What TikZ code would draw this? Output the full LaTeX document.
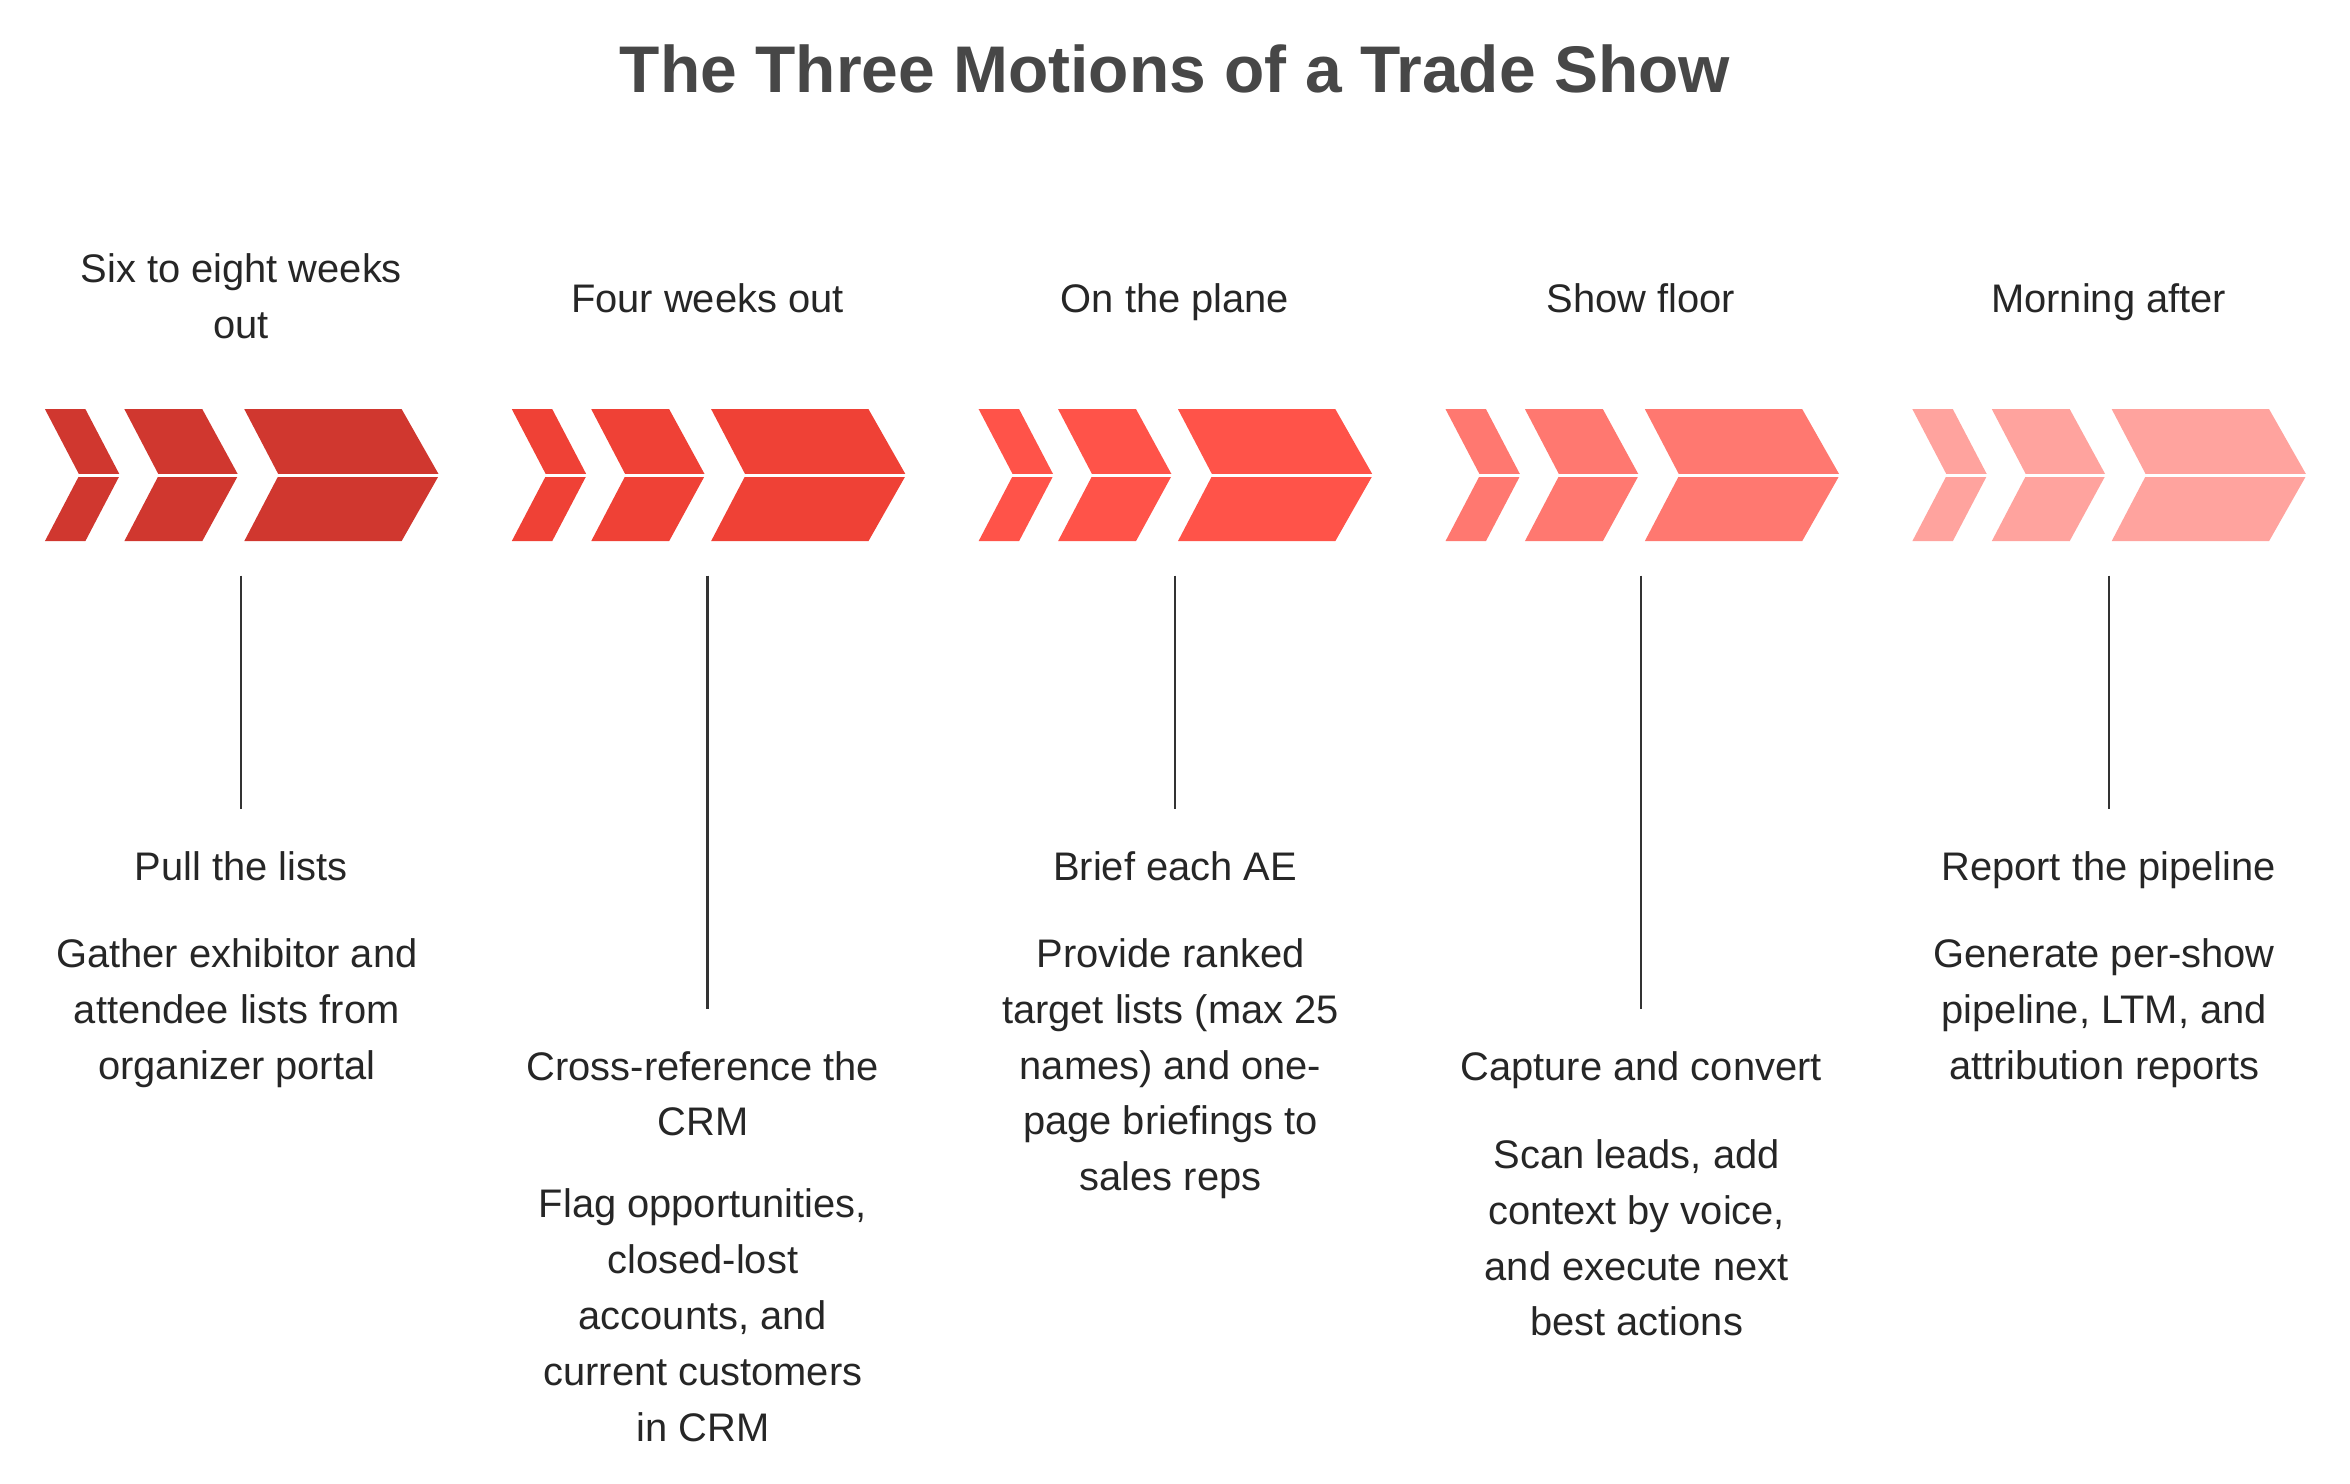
\documentclass[tikz,border=0pt]{standalone}
\usepackage{fontspec}
\setmainfont{Liberation Sans}
\begin{document}
\begin{tikzpicture}[x=0.5pt,y=-0.5pt,
  txt/.style={anchor=north,inner sep=0pt,align=center,text=black!85,font=\fontsize{13.3}{18.6}\selectfont},
  vline/.style={line width=0.8pt,black!80}]
\useasboundingbox (0,0) rectangle (1568,990);
\definecolor{c1}{HTML}{D0372F}\definecolor{c2}{HTML}{EF4136}\definecolor{c3}{HTML}{FF5349}
\definecolor{c4}{HTML}{FF7870}\definecolor{c5}{HTML}{FFA39E}
\node[anchor=base,font=\fontsize{22}{24}\selectfont\bfseries,text=black!72] (title) at (784,62) {The Three Motions of a Trade Show};
\foreach \i/\c in {0/c1,1/c2,2/c3,3/c4,4/c5}{
 \begin{scope}[xshift={\i*311.5*0.5pt}]
  \fill[\c] (30,273)--(57,273)--(80,317)--(57,361)--(30,361)--(53,317)--cycle;
  \fill[\c] (83,273)--(135,273)--(159,317)--(135,361)--(83,361)--(106,317)--cycle;
  \fill[\c] (163,273)--(268,273)--(293,317)--(268,361)--(163,361)--(186,317)--cycle;
  \draw[white,line width=1pt] (28,317)--(295,317);
 \end{scope}}
\node[txt] (h1) at (161,169) {Six to eight weeks\\out};
\node[txt] (h2) at (472,189) {Four weeks out};
\node[txt] (h3) at (784,189) {On the plane};
\node[txt] (h4) at (1095,189) {Show floor};
\node[txt] (h5) at (1407,189) {Morning after};
\coordinate (a1) at (161,384); \coordinate (b1) at (161,540);
\coordinate (a2) at (472,384); \coordinate (b2) at (472,673);
\coordinate (a3) at (784,384); \coordinate (b3) at (784,540);
\coordinate (a4) at (1095,384); \coordinate (b4) at (1095,673);
\coordinate (a5) at (1407,384); \coordinate (b5) at (1407,540);
\foreach \k in {1,...,5} \draw[vline] (a\k)--(b\k);
\node[txt] (t1) at (161,568) {Pull the lists};
\node[txt] (d1) at (158,626) {Gather exhibitor and\\attendee lists from\\organizer portal};
\node[txt] (t2) at (469,701) {Cross-reference the\\CRM};
\node[txt] (d2) at (469,793) {Flag opportunities,\\closed-lost\\accounts, and\\current customers\\in CRM};
\node[txt] (t3) at (784,568) {Brief each AE};
\node[txt] (d3) at (781,626) {Provide ranked\\target lists (max 25\\names) and one-\\page briefings to\\sales reps};
\node[txt] (t4) at (1095,701) {Capture and convert};
\node[txt] (d4) at (1092,760) {Scan leads, add\\context by voice,\\and execute next\\best actions};
\node[txt] (t5) at (1407,568) {Report the pipeline};
\node[txt] (d5) at (1404,626) {Generate per-show\\pipeline, LTM, and\\attribution reports};
\end{tikzpicture}
\end{document}
